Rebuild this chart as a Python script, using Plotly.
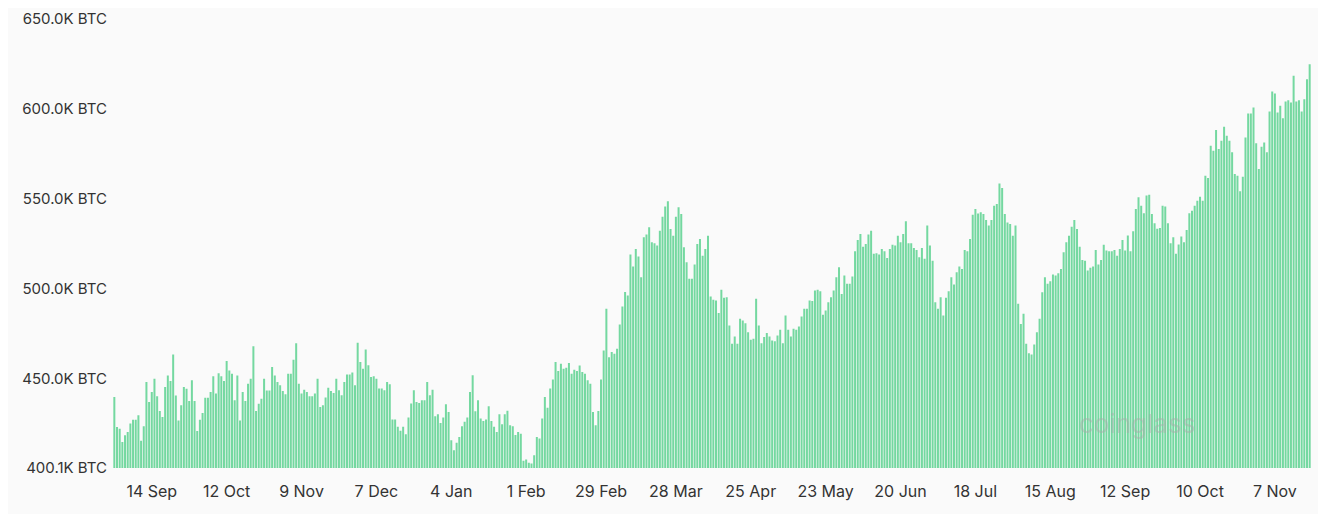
import plotly.graph_objects as go
import pandas as pd

# Daily BTC holdings (thousands of BTC)
seg1 = [439.6,422.9,422,414.6,418.3,420.2,424.8,427,427,429.4,415.2,423.3,447.9,436.8,442.4,449.8,440,431.8,428.5,445.2,451.6,448.5,463.3,440.5,426.6,435,445.2,444.2,437.4,448.9,437.4,420.7,427,430.7,439.2,439.2,442.4,451.1,441.5,452.9,451.1,448.5,459.6,454.4,452.6,437.8,451.6,426.6,442.4,437.4,447,449.8,467.9,431.8,435.9,438.7,449.8,443.3,443.3,456.3,451.6,447.9,446.1,442.9,441.1,452.6,452.6,460.3,469.6,447,441.5,443.7,442.4,440]
seg2 = [440,441.5,449.8,434.1,435,439.3,444.8,443,441.9,449.8,443.4,440.6,448,452.1,452.1,453.2,446.1,469.8,459.1,455.4,466,457.3,450.8,451.1,449.8,444.3,444.3,443.4,448,446.7,427.1,427.1,423,420.8,423,418.9,428.2,436,443.4,436.9,436.3,437.8,437.8,448,440.6,443.7,428.9,430,425.2,428.2,435.6,431.3,415.6,410,414.1,417.4,423.4,425.8,428.2,442.4,451.7,431.7,437.8,427.6,426.3,427.1,434.5,426.3,423,420.2,430,424.5,430,431.9,423.9,423.4,418.4]
seg3 = [420.2,419.2,404.1,404.8,403,402.6,407.2,417.4,416.5,427.6,439.6,433.7,444.3,449.3,459.1,454.1,458.1,455.4,455.9,458.5,452.6,454.8,454.1,457.2,453.5,452.6,448.9,447,431.3,423.9,431.8,449.3,465.5,488.7,461.8,464.6,463.7,466.5,480,490,498,496.1,518.9,512.2,522,517.8,506.3,528.5,530,534.1,525.7,525.2,523.9,532.2,540,545.6,548.5,533.1,529.4,540,545.2,541.5,523,514.6,505.4,505.4,513.3,524.8,527.6,518.3,522,529.4]
seg4 = [495.6,493.7,493.3,486.3,499.3,494.8,495.2,479.4,469.3,473.3,469.3,483.1,482.2,480.7,475.7,471.5,472,494.3,479.4,469.6,473,475.2,473.3,471.1,470.7,473.9,477,469.6,485,477,473.3,477.6,477,478.9,484.4,488.7,488.7,493.3,493,498.9,499.3,498.5,485.4,487.8,492.4,495.2,498.9,506.3,511.8,497,507.2,502.6,502.6,506.7,520.7,527,530.4,523.3,524.8,530,532.2,519.3,519.6,518.9,522,520.7,517,522,524.4,523.9,529.4,525.7,530.4,537.4,525.2]
seg5 = [525.2,522.6,521.5,517.4,522.6,516.5,535,523.9,515.5,492.4,488.7,495.2,485,494.8,498.5,506.3,502.2,509.1,512.2,510.9,521.5,520.7,527.6,541.1,544.3,541.8,542.4,541.5,538.1,535,538.1,546.1,547,558.5,555.9,541.5,536.8,535.9,529.4,535,491.5,480.3,485.9,469.2,464,463.3,468.9,475.7,483.1,497.9,506.3,502.6,504.1,507.8,507.2,508.5,510.9,520.2,525.7,529.4,534.4,538.1,533.1,523.3,515.9,515.5,510,511.5,512.2,521.5,513.3,515.9,524.4,521.1]
seg6 = [520.8,520.8,521.5,518.3,522,527,521.1,529.5,520.8,531.9,544.3,550.8,546.1,541.9,551.7,552.2,541.5,536.3,533.2,533.7,546.1,545.6,536.3,525.2,528.5,519.3,524.5,528.9,525.8,532.6,541.9,543.3,546.1,548.9,551.1,548.9,562.8,561.5,579.5,576.7,588.2,577.6,582.2,590,585,582.2,575.8,563.7,562.8,554.1,562.2,584.1,597.4,597.4,600.8,580.8,566.5,578.9,581.3,575.8,598.5,609.7,608.5,598,601.7,594.8,604.1,604.8,603.5,618.4,604.1,604.8,598.5,605.4,616.5,624.8]

values_k = seg1 + seg2 + seg3 + seg4 + seg5 + seg6
values = [v * 1000 for v in values_k]
end_date = "2024-11-20"
dates = pd.date_range(end=end_date, periods=len(values), freq="D")

tick_dates = pd.date_range("2023-09-14", periods=16, freq="28D")
ytick_vals = [400100, 450000, 500000, 550000, 600000, 650000]
ytick_text = ["400.1K BTC", "450.0K BTC", "500.0K BTC", "550.0K BTC", "600.0K BTC", "650.0K BTC"]

fig = go.Figure(go.Bar(x=dates, y=values, marker=dict(color="#74d8a0", line=dict(width=0))))
fig.update_layout(
    width=1326, height=514,
    margin=dict(l=105, r=23, t=11, b=54),
    paper_bgcolor="#fafafa", plot_bgcolor="#fafafa",
    bargap=0.25, showlegend=False,
    font=dict(family="Inter, Noto Sans, sans-serif", size=16, color="#333333"),
)
fig.update_xaxes(tickvals=tick_dates, tickformat="%-d %b", showgrid=False, ticks="",
                 showline=False, tickfont=dict(size=16, color="#333"), automargin=False,
                 ticklabelstandoff=12,
                 range=[dates[0] - pd.Timedelta(hours=12), dates[-1] + pd.Timedelta(hours=12)])
fig.update_yaxes(range=[400100, 650000], tickvals=ytick_vals, ticktext=ytick_text, automargin=False,
                 ticklabelstandoff=5,
                 showgrid=False, zeroline=False, tickfont=dict(size=15, color="#333"))
fig.add_annotation(xref="paper", yref="paper", x=0.905, y=0.06, text="coinglass",
                   showarrow=False, font=dict(size=26, color="rgba(170,170,170,0.45)"))
fig.write_html("out.html")
